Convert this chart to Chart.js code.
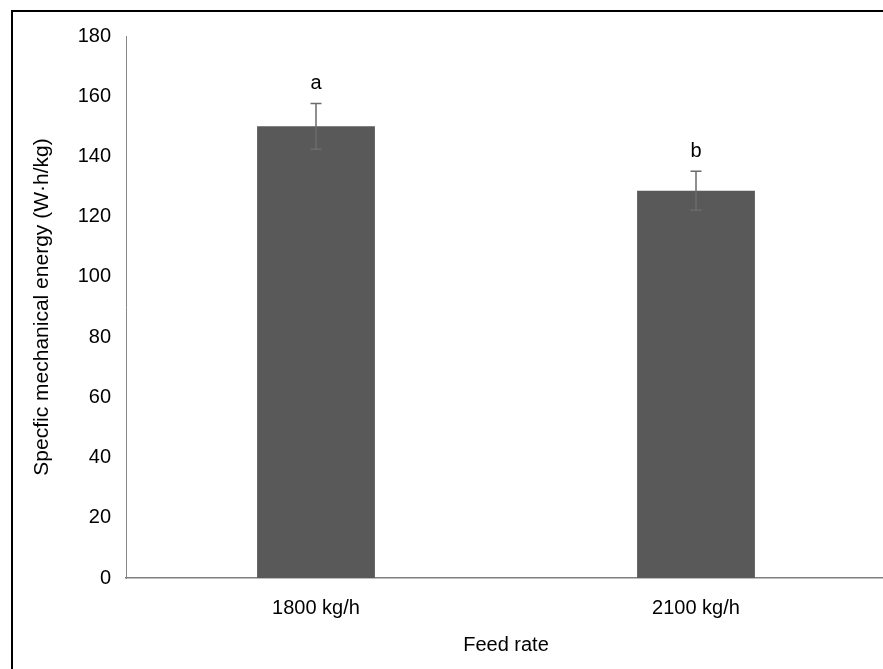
<!DOCTYPE html>
<html>
<head>
<meta charset="utf-8">
<script src="https://cdn.jsdelivr.net/npm/chart.js@4"></script>
<style>
  html, body { margin: 0; padding: 0; background: #fff; overflow: hidden; }
  #frame { position: absolute; left: 11px; top: 10px; width: 900px; height: 700px;
           border-left: 2px solid #000; border-top: 2px solid #000; pointer-events: none; }
  #wrap { position: absolute; left: 0; top: 0; width: 886px; height: 669px; }
</style>
</head>
<body>
<div id="wrap"><canvas id="smeChart"></canvas></div>
<div id="frame"></div>
<script>
const categories = ["1800 kg/h", "2100 kg/h"];
const smeValues = [150, 128.6];
const smeErrors = [7.6, 6.5];
const sigLetters = ["a", "b"];
const yTicks = [0, 20, 40, 60, 80, 100, 120, 140, 160, 180];

const fontFamily = "'Liberation Sans', Arial, sans-serif";

// error bars + significance letters on top of the bars
const errorBarPlugin = {
    id: "errorBars",
    afterDatasetsDraw(chart) {
        const ctx = chart.ctx;
        const y = chart.scales.y;
        const meta = chart.getDatasetMeta(0);
        ctx.save();
        ctx.strokeStyle = "#6b6b6b";
        ctx.lineWidth = 1.5;
        meta.data.forEach((bar, i) => {
            const top = y.getPixelForValue(smeValues[i] + smeErrors[i]);
            const bottom = y.getPixelForValue(smeValues[i] - smeErrors[i]);
            ctx.beginPath();
            ctx.moveTo(bar.x, top);
            ctx.lineTo(bar.x, bottom);
            ctx.moveTo(bar.x - 5.5, top);
            ctx.lineTo(bar.x + 5.5, top);
            ctx.moveTo(bar.x - 5.5, bottom);
            ctx.lineTo(bar.x + 5.5, bottom);
            ctx.stroke();

            ctx.fillStyle = "#000";
            ctx.font = "20px " + fontFamily;
            ctx.textAlign = "center";
            ctx.textBaseline = "middle";
            ctx.fillText(sigLetters[i], bar.x, top - 20);
        });
        ctx.restore();
    }
};

const ctx = document.getElementById("smeChart").getContext("2d");
const chart = new Chart(ctx, {
    type: "bar",
    data: {
        labels: categories,
        datasets: [
            {
                label: "SME",
                backgroundColor: "#595959",
                borderWidth: 0,
                data: smeValues,
                categoryPercentage: 1,
                barPercentage: 0.31
            }
        ]
    },
    options: {
        responsive: true,
        maintainAspectRatio: false,
        animation: false,
        layout: { padding: { left: 0, right: 0, top: 36, bottom: 0 } },
        plugins: {
            legend: { display: false },
            tooltip: { enabled: false }
        },
        scales: {
            x: {
                grid: { display: false, drawTicks: false },
                border: { display: true, color: "#7f7f7f", width: 1.5 },
                ticks: { color: "#000", font: { family: fontFamily, size: 20 }, padding: 18 },
                title: {
                    display: true,
                    text: "Feed rate",
                    color: "#000",
                    font: { family: fontFamily, size: 20 },
                    padding: { top: 0, bottom: 12 }
                },
                afterFit(scale) { scale.height = 91; }
            },
            y: {
                min: 0,
                max: 180,
                afterBuildTicks(scale) { scale.ticks = yTicks.map(v => ({ value: v })); },
                grid: { display: false, drawTicks: false },
                border: { display: true, color: "#868686", width: 1 },
                ticks: { color: "#000", font: { family: fontFamily, size: 20 }, padding: 15 },
                title: {
                    display: true,
                    text: "Specfic mechanical energy (W·h/kg)",
                    color: "#000",
                    font: { family: fontFamily, size: 21 },
                    padding: { top: 30, bottom: 0 }
                },
                afterFit(scale) { scale.width = 126; }
            }
        }
    },
    plugins: [errorBarPlugin]
});
</script>
</body>
</html>
